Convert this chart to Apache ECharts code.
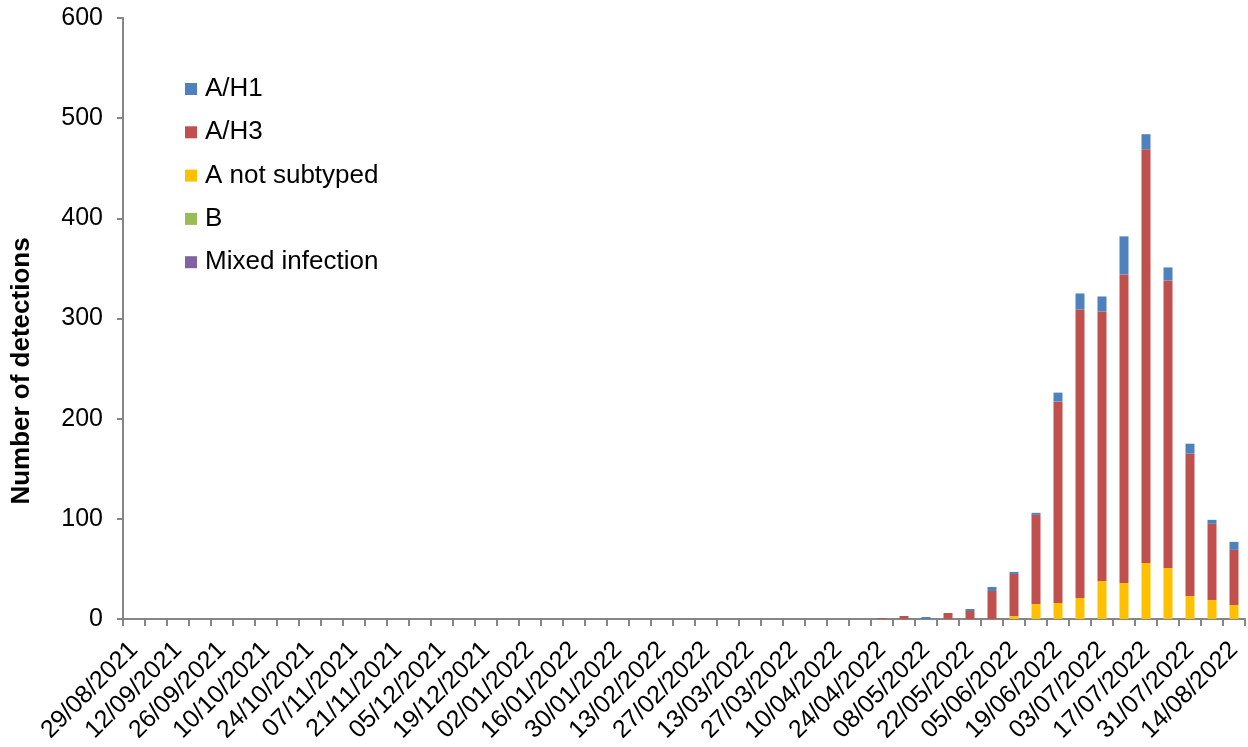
<!DOCTYPE html>
<html>
<head>
<meta charset="utf-8">
<script src="https://cdn.jsdelivr.net/npm/echarts@6/dist/echarts.min.js"></script>
<style>
html,body{margin:0;padding:0;background:#fff;}
#chart{width:1248px;height:747px;}
</style>
</head>
<body>
<div id="chart"></div>
<script>
var weeks = [
  '29/08/2021','05/09/2021','12/09/2021','19/09/2021','26/09/2021','03/10/2021','10/10/2021','17/10/2021','24/10/2021','31/10/2021',
  '07/11/2021','14/11/2021','21/11/2021','28/11/2021','05/12/2021','12/12/2021','19/12/2021','26/12/2021','02/01/2022','09/01/2022',
  '16/01/2022','23/01/2022','30/01/2022','06/02/2022','13/02/2022','20/02/2022','27/02/2022','06/03/2022','13/03/2022','20/03/2022',
  '27/03/2022','03/04/2022','10/04/2022','17/04/2022','24/04/2022','01/05/2022','08/05/2022','15/05/2022','22/05/2022','29/05/2022',
  '05/06/2022','12/06/2022','19/06/2022','26/06/2022','03/07/2022','10/07/2022','17/07/2022','24/07/2022','31/07/2022','07/08/2022',
  '14/08/2022'
];
var aH1 = [
  0,0,0,0,0,0,0,0,0,0,
  0,0,0,0,0,0,0,0,0,0,
  0,0,0,0,0,0,0,0,0,0,
  0,0,0,0,0,0,2,0,2,4,
  2,2,9,16,15,38,15,13,10,4,
  8
];
var aH3 = [
  0,0,0,0,0,0,0,0,0,0,
  0,0,0,0,0,0,0,0,0,0,
  0,0,0,0,0,0,0,0,0,0,
  0,0,0,0,1,3,0,6,8,28,
  42,89,201,288,269,308,413,287,142,76,
  55
];
var aNotSubtyped = [
  0,0,0,0,0,0,0,0,0,0,
  0,0,0,0,0,0,0,0,0,0,
  0,0,0,0,0,0,0,0,0,0,
  0,0,0,0,0,0,0,0,0,0,
  3,15,16,21,38,36,56,51,23,19,
  14
];
var bVals = [
  0,0,0,0,0,0,0,0,0,0,
  0,0,0,0,0,0,0,0,0,0,
  0,0,0,0,0,0,0,0,0,0,
  0,0,0,0,0,0,0,0,0,0,
  0,0,0,0,0,0,0,0,0,0,
  0
];
var mixedVals = [
  0,0,0,0,0,0,0,0,0,0,
  0,0,0,0,0,0,0,0,0,0,
  0,0,0,0,0,0,0,0,0,0,
  0,0,0,0,0,0,0,0,0,0,
  0,0,0,0,0,0,0,0,0,0,
  0
];
var yTicks = [0,100,200,300,400,500,600];

var FONT = '"Liberation Sans", Arial, sans-serif';
var axisGrey = '#868686';

function bar(name, data, color) {
  return {
    name: name, type: 'bar', stack: 'total', data: data,
    barWidth: 9,
    itemStyle: { color: color, borderWidth: 0 },
    emphasis: { disabled: true }
  };
}

var chart = echarts.init(document.getElementById('chart'), null, {renderer: 'canvas'});
chart.setOption({
  animation: false,
  backgroundColor: '#fff',
  grid: { left: 123, right: 3, top: 18, bottom: 128, containLabel: false },
  legend: {
    orient: 'vertical', left: 185, top: 76, padding: 0,
    icon: 'rect', itemWidth: 12, itemHeight: 12, itemGap: 17.3,
    data: ['A/H1','A/H3','A not subtyped','B','Mixed infection'],
    textStyle: { fontFamily: FONT, fontSize: 26, color: '#000', lineHeight: 24, padding: [0,0,0,3] },
    selectedMode: false
  },
  graphic: [{
    type: 'text',
    x: 22, y: 371, rotation: Math.PI / 2,
    style: { text: 'Number of detections', font: 'bold 26px ' + FONT, fill: '#000', textAlign: 'center', textVerticalAlign: 'middle' }
  }],
  xAxis: {
    type: 'category', data: weeks,
    axisLine: { lineStyle: { color: axisGrey, width: 2 } },
    axisTick: { show: true, interval: 0, alignWithLabel: false, length: 7, lineStyle: { color: axisGrey, width: 2 } },
    axisLabel: { interval: 1, rotate: 45, margin: 27, fontFamily: FONT, fontSize: 25, color: '#000' }
  },
  yAxis: {
    type: 'value', min: yTicks[0], max: yTicks[yTicks.length - 1], interval: 100,
    axisLine: { show: true, lineStyle: { color: axisGrey, width: 2 } },
    axisTick: { show: true, length: 6, lineStyle: { color: axisGrey, width: 2 } },
    splitLine: { show: false },
    axisLabel: { margin: 20, fontFamily: FONT, fontSize: 25, color: '#000' }
  },
  series: [
    bar('Mixed infection', mixedVals, '#8064A2'),
    bar('B', bVals, '#9BBB59'),
    bar('A not subtyped', aNotSubtyped, '#FFC000'),
    bar('A/H3', aH3, '#C0504D'),
    bar('A/H1', aH1, '#4F81BD')
  ]
});
</script>
</body>
</html>
